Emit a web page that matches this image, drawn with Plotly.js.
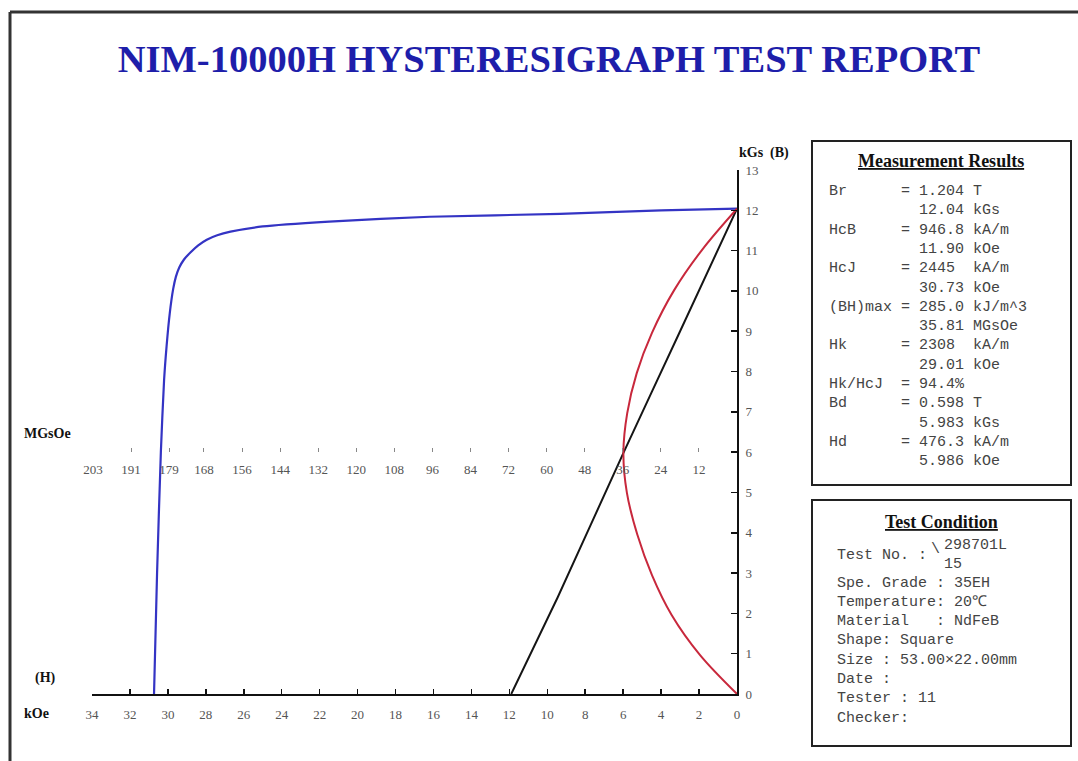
<!DOCTYPE html>
<html>
<head>
<meta charset="utf-8">
<script src="https://cdn.plot.ly/plotly-3.0.1.min.js"></script>
<style>
  html, body { margin: 0; padding: 0; background: #ffffff; }
  #report { width: 1078px; height: 761px; }
</style>
</head>
<body>
<div id="report"></div>
<script>
// ---- Demagnetisation data (H in kOe, B in kGs) ----
// Intrinsic curve
const jCurveH = [0, 4.0, 9.33, 16.2, 21.5, 25.0, 26.7, 27.4, 27.95, 28.4, 28.8, 29.15, 29.4, 29.58, 29.72, 29.9, 30.07, 30.2, 30.37, 30.57, 30.73];
const jCurveB = [12.04, 12.0, 11.91, 11.84, 11.72, 11.6, 11.47, 11.38, 11.27, 11.13, 10.96, 10.78, 10.58, 10.35, 10.05, 9.45, 8.62, 7.79, 6.0, 3.0, 0];
// Normal curve
const bCurveH = [11.90, 9.45, 5.986, 3.0, 0];
const bCurveB = [0, 2.4, 5.983, 9.0, 12.04];
// Energy product curve (BH in MGsOe against B in kGs)
const bhCurveBH = [0, 11.7, 20.6, 26.8, 31.4, 34.7, 35.81, 34.6, 31.6, 26.8, 19.8, 11.0, 0];
const bhCurveB  = [0, 0.97, 1.96, 2.95, 3.95, 4.99, 5.983, 6.97, 7.96, 8.96, 10.02, 11.02, 12.04];

// ---- Axis ticks ----
const hTicks = [34, 32, 30, 28, 26, 24, 22, 20, 18, 16, 14, 12, 10, 8, 6, 4, 2, 0];
const bTicks = [0, 1, 2, 3, 4, 5, 6, 7, 8, 9, 10, 11, 12, 13];
const bhTicks = [203, 191, 179, 168, 156, 144, 132, 120, 108, 96, 84, 72, 60, 48, 36, 24, 12];
const bhAxisMax = 203.3;

// ---- Measurement results ----
const resultNames  = ['Br', 'HcB', 'HcJ', '(BH)max', 'Hk', 'Hk/HcJ', 'Bd', 'Hd'];
const resultValues = ['1.204', '946.8', '2445', '285.0', '2308', '94.4', '0.598', '476.3'];
const resultUnits  = ['T', 'kA/m', 'kA/m', 'kJ/m^3', 'kA/m', '%', 'T', 'kA/m'];
const altValues    = ['12.04', '11.90', '30.73', '35.81', '29.01', '', '5.983', '5.986'];
const altUnits     = ['kGs', 'kOe', 'kOe', 'MGsOe', 'kOe', '', 'kGs', 'kOe'];

// ---- Test condition ----
const testNoParts = ['298701L', '15'];
const condLabels = ['Spe. Grade : ', 'Temperature: ', 'Material   : ', 'Shape: ', 'Size : ', 'Date :', 'Tester : ', 'Checker:'];
const condValues = ['35EH', '20\u2103', 'NdFeB', 'Square', '53.00\u00d722.00mm', '', '11', ''];

// ---- Page geometry (pixels) ----
const W = 1078, H = 761;
const plotL = 92, plotR = 737, plotT = 170, plotB = 694;
const px = x => (x - plotL) / (plotR - plotL);
const py = y => (plotB - y) / (plotB - plotT);
const nb = s => s.replace(/ /g, '\u00a0');

const serif = 'Liberation Serif, Times New Roman, serif';
const mono = 'Liberation Mono, Courier New, monospace';
const tickFont = { family: serif, size: 13, color: '#555555' };

const traces = [
  { x: jCurveH, y: jCurveB, type: 'scatter', mode: 'lines', line: { color: '#3434c4', width: 2.2, shape: 'spline', smoothing: 0.6 }, hoverinfo: 'skip' },
  { x: bCurveH, y: bCurveB, type: 'scatter', mode: 'lines', line: { color: '#151515', width: 2, shape: 'spline', smoothing: 0.4 }, hoverinfo: 'skip' },
  { x: bhCurveBH, y: bhCurveB, xaxis: 'x2', yaxis: 'y', type: 'scatter', mode: 'lines', line: { color: '#c8283c', width: 2, shape: 'spline', smoothing: 1 }, hoverinfo: 'skip' }
];

const annotations = [];
function label(x, y, text, opts) {
  annotations.push(Object.assign({
    xref: 'paper', yref: 'paper', x: px(x), y: py(y), text: text,
    showarrow: false, xanchor: 'left', yanchor: 'middle'
  }, opts || {}));
}

// Axis captions
const capFont = { family: serif, size: 14, color: '#111111', weight: 'bold' };
label(764, 153, 'kGs  (B)', { xanchor: 'center', font: capFont });
label(22, 433, 'MGsOe', { font: capFont });
label(33, 678, '(H)', { font: capFont });
label(22, 713, 'kOe', { font: capFont });

// Measurement results panel
const headFont = { family: serif, size: 18, color: '#111111', weight: 'bold' };
label(941, 161, '<span style="text-decoration:underline">Measurement Results</span>', { xanchor: 'center', font: headFont });
const monoFont = { family: mono, size: 15, color: '#444444' };
const resultLines = [];
resultNames.forEach((n, i) => {
  const value = resultUnits[i] === '%' ? resultValues[i] + '%' : resultValues[i].padEnd(5) + ' ' + resultUnits[i];
  resultLines.push(n.padEnd(8) + '= ' + value);
  if (altValues[i]) resultLines.push(' '.repeat(10) + altValues[i].padEnd(5) + ' ' + altUnits[i]);
});
resultLines.forEach((t, i) => label(827, 191.5 + i * 19.3, nb(t), { font: monoFont }));

// Test condition panel
label(942, 522, '<span style="text-decoration:underline">Test Condition</span>', { xanchor: 'center', font: headFont });
label(835, 555, nb('Test No. :'), { font: monoFont });
label(929, 549, '\\', { font: monoFont });
label(942, 545, testNoParts[0], { font: monoFont });
label(942, 564, testNoParts[1], { font: monoFont });
condLabels.forEach((l, i) => label(835, 583 + i * 19.3, nb(l + condValues[i]), { font: monoFont }));

// Frame and panels
const shapes = [
  { type: 'line', xref: 'paper', yref: 'paper', x0: px(10), x1: px(1080), y0: py(12), y1: py(12), line: { color: '#333333', width: 3 } },
  { type: 'line', xref: 'paper', yref: 'paper', x0: px(10), x1: px(10), y0: py(12), y1: py(765), line: { color: '#333333', width: 3 } },
  { type: 'rect', xref: 'paper', yref: 'paper', x0: px(812), x1: px(1071), y0: py(141), y1: py(485), line: { color: '#222222', width: 2 } },
  { type: 'rect', xref: 'paper', yref: 'paper', x0: px(812), x1: px(1071), y0: py(500), y1: py(746), line: { color: '#222222', width: 2 } }
];

const layout = {
  width: W, height: H,
  margin: { l: plotL, r: W - plotR, t: plotT, b: H - plotB, pad: 0 },
  paper_bgcolor: '#ffffff', plot_bgcolor: '#ffffff',
  showlegend: false,
  title: {
    text: 'NIM-10000H HYSTERESIGRAPH TEST REPORT',
    x: 549 / W, xref: 'container', xanchor: 'center',
    y: 1 - 59 / H, yref: 'container', yanchor: 'middle',
    font: { family: serif, size: 38.5, color: '#1e1eaa', weight: 'bold' }
  },
  xaxis: {
    range: [34, 0], tickvals: hTicks, ticks: 'inside', ticklen: 5, tickwidth: 1.5, tickcolor: '#111111',
    showline: true, linewidth: 2, linecolor: '#111111', showgrid: false, zeroline: false,
    tickfont: tickFont, ticklabelstandoff: 7, fixedrange: true
  },
  xaxis2: {
    overlaying: 'x', anchor: 'free', position: 6 / 13, side: 'bottom',
    range: [bhAxisMax, 0], tickvals: bhTicks, ticktext: bhTicks.map(String),
    ticks: 'inside', ticklen: 4, tickwidth: 1, tickcolor: '#888888',
    showline: false, showgrid: false, zeroline: false,
    tickfont: tickFont, ticklabelstandoff: 8, fixedrange: true
  },
  yaxis: {
    range: [0, 13], side: 'right', tickvals: bTicks, ticks: 'inside', ticklen: 6, tickwidth: 1.5, tickcolor: '#111111',
    showline: true, linewidth: 2, linecolor: '#111111', showgrid: false, zeroline: false,
    tickfont: tickFont, ticklabelstandoff: 4, fixedrange: true
  },
  annotations: annotations,
  shapes: shapes
};

Plotly.newPlot('report', traces, layout, { staticPlot: true, displayModeBar: false });
</script>
</body>
</html>
